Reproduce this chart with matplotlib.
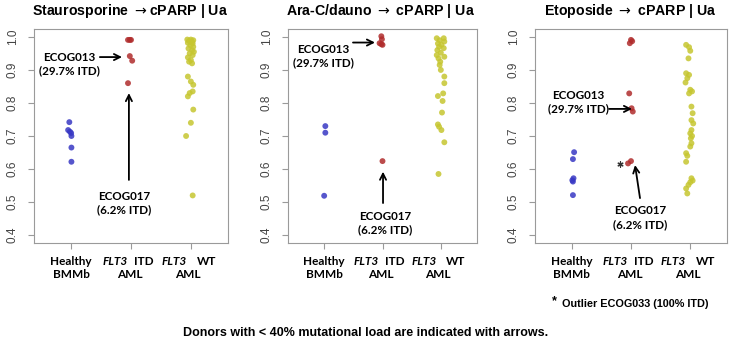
import matplotlib
matplotlib.use("Agg")
import matplotlib.pyplot as plt
from matplotlib import transforms

# ---------------- data ----------------
titles = [r"Staurosporine ${\rightarrow}$cPARP | Ua",
          r"Ara-C/dauno ${\rightarrow}$ cPARP | Ua",
          r"Etoposide ${\rightarrow}$ cPARP | Ua"]
yticks = [0.4, 0.5, 0.6, 0.7, 0.8, 0.9, 1.0]
ytick_labels = ["0.4", "0.5", "0.6", "0.7", "0.8", "0.9", "1.0"]

# Staurosporine
stau_healthy = [0.742, 0.718, 0.713, 0.709, 0.700, 0.665, 0.622]
stau_healthy_jit = [-0.03, -0.05, -0.02, 0.0, 0.005, 0.005, 0.005]
stau_itd = [0.991, 0.991, 0.991, 0.942, 0.928, 0.860]
stau_itd_jit = [-0.05, 0.0, -0.02, -0.02, 0.02, -0.05]
stau_wt = [0.992, 0.992, 0.990, 0.988, 0.985, 0.982, 0.980, 0.975, 0.970, 0.965,
           0.960, 0.955, 0.950, 0.945, 0.938, 0.930, 0.925, 0.920, 0.880, 0.865,
           0.855, 0.835, 0.830, 0.820, 0.780, 0.740, 0.700, 0.520]
stau_wt_jit = [-0.06, 0.0, 0.04, -0.03, 0.02, -0.05, 0.03, -0.01, 0.04, -0.04,
               0.02, 0.05, -0.02, 0.03, -0.05, 0.0, -0.03, 0.02, -0.05, 0.0,
               0.04, 0.03, -0.02, -0.05, 0.04, 0.0, -0.08, 0.03]

# Ara-C / dauno
arac_healthy = [0.730, 0.710, 0.519]
arac_healthy_jit = [0.02, 0.02, 0.0]
arac_itd = [1.002, 0.993, 0.981, 0.978, 0.976, 0.624]
arac_itd_jit = [-0.02, -0.01, -0.05, -0.02, 0.0, 0.0]
arac_wt = [0.996, 0.996, 0.990, 0.986, 0.980, 0.976, 0.970, 0.966, 0.960, 0.952,
           0.945, 0.940, 0.935, 0.925, 0.915, 0.900, 0.880, 0.860, 0.829, 0.821,
           0.806, 0.771, 0.735, 0.728, 0.718, 0.681, 0.585]
arac_wt_jit = [-0.07, 0.05, -0.02, 0.06, -0.05, 0.01, -0.03, 0.05, -0.06, 0.0,
               -0.07, 0.06, -0.04, -0.01, -0.02, 0.0, 0.06, 0.06, 0.04, -0.05,
               0.03, 0.02, -0.05, -0.03, 0.01, 0.06, -0.04]

# Etoposide
etop_healthy = [0.651, 0.630, 0.572, 0.566, 0.562, 0.521]
etop_healthy_jit = [0.04, 0.02, 0.03, 0.01, 0.02, 0.02]
etop_itd = [0.991, 0.987, 0.981, 0.829, 0.784, 0.774, 0.624, 0.617]
etop_itd_jit = [0.0, 0.02, -0.02, -0.03, 0.01, 0.03, 0.0, -0.05]
etop_wt = [0.976, 0.969, 0.958, 0.935, 0.890, 0.885, 0.875, 0.862, 0.840, 0.835,
           0.829, 0.789, 0.769, 0.748, 0.738, 0.718, 0.708, 0.700, 0.693, 0.678,
           0.668, 0.648, 0.640, 0.622, 0.572, 0.565, 0.560, 0.552, 0.541, 0.526]
etop_wt_jit = [-0.07, -0.02, 0.0, -0.03, -0.07, -0.02, -0.05, -0.08, 0.0, 0.03,
               -0.02, 0.02, 0.04, 0.02, 0.05, 0.02, 0.0, 0.03, 0.01, 0.02,
               0.0, -0.07, -0.05, -0.07, 0.02, 0.04, 0.0, -0.03, -0.07, -0.05]
etop_outlier = [0.614]
etop_outlier_x = [1.814]

panels = [
    [(stau_healthy, stau_healthy_jit), (stau_itd, stau_itd_jit), (stau_wt, stau_wt_jit)],
    [(arac_healthy, arac_healthy_jit), (arac_itd, arac_itd_jit), (arac_wt, arac_wt_jit)],
    [(etop_healthy, etop_healthy_jit), (etop_itd, etop_itd_jit), (etop_wt, etop_wt_jit)],
]
group_colors = ["#3838c4", "#b02c2c", "#c6c630"]

# annotations: (text, text_xy, arrow_tail, arrow_head)
annos = [
    [("ECOG013\n(29.7% ITD)", (0.97, 0.917), (1.48, 0.939), (1.85, 0.939)),
     ("ECOG017\n(6.2% ITD)", (1.88, 0.498), (1.965, 0.567), (1.965, 0.830))],
    [("ECOG013\n(29.7% ITD)", (0.98, 0.941), (1.494, 0.983), (1.871, 0.983)),
     ("ECOG017\n(6.2% ITD)", (2.043, 0.435), (2.009, 0.497), (2.009, 0.592))],
    [("ECOG013\n(29.7% ITD)", (1.106, 0.803), (1.629, 0.782), (2.017, 0.782)),
     ("ECOG017\n(6.2% ITD)", (2.152, 0.453), (2.152, 0.512), (2.068, 0.612))],
]

# ---------------- figure ----------------
W, H = 731, 340
fig = plt.figure(figsize=(W / 100, H / 100), dpi=100)
rects_px = [(34, 29, 194, 214), (288, 29, 189, 214), (535, 29, 192, 214)]
title_cx = [130.5, 380, 630]

arial = ["Liberation Sans", "DejaVu Sans"]
calib = ["Lato", "DejaVu Sans"]

for i, (x0, yt, w, h) in enumerate(rects_px):
    ax = fig.add_axes([x0 / W, 1 - (yt + h) / H, w / W, h / H])
    for g, (vals, jit) in enumerate(panels[i]):
        xs = [g + 1 + j for j in jit]
        ax.scatter(xs, vals, s=18, color=group_colors[g], alpha=0.85,
                   edgecolors="none", zorder=3)
    ax.set_xlim(0.38, 3.62)
    ax.set_ylim(0.376, 1.024)
    ax.set_xticks([1, 2, 3])
    ax.set_xticklabels([])
    ax.set_yticks(yticks)
    ax.set_yticklabels(ytick_labels, family=arial, fontsize=8.5, color="#444444")
    for lab in ax.get_yticklabels():
        lab.set_rotation(90)
        lab.set_va("center")
        lab.set_ha("right")
    for sp in ax.spines.values():
        sp.set_color("#9a9a9a")
        sp.set_linewidth(0.8)
    ax.tick_params(axis="both", color="#9a9a9a", length=4, width=0.8)
    ax.tick_params(axis="y", pad=7)

    # x category labels
    tr = transforms.blended_transform_factory(ax.transData, ax.transAxes)
    fs = 8.5
    kw = dict(xycoords=tr, textcoords="offset points", fontsize=fs,
              fontweight="bold", family=calib, va="center", color="black")
    ax.annotate("Healthy", xy=(1, 0), xytext=(0, -13), ha="center", **kw)
    ax.annotate("BMMb", xy=(1, 0), xytext=(0, -22.5), ha="center", **kw)
    ax.annotate("FLT3", xy=(2, 0), xytext=(-2.5, -13), ha="right", style="italic", **kw)
    ax.annotate("ITD", xy=(2, 0), xytext=(2, -13), ha="left", **kw)
    ax.annotate("AML", xy=(2, 0), xytext=(-1, -22.5), ha="center", **kw)
    ax.annotate("FLT3", xy=(3, 0), xytext=(-3, -13), ha="right", style="italic", **kw)
    ax.annotate("WT", xy=(3, 0), xytext=(4, -13), ha="left", **kw)
    ax.annotate("AML", xy=(3, 0), xytext=(-2, -22.5), ha="center", **kw)

    for text, txy, tail, head in annos[i]:
        ax.text(txy[0], txy[1], text, ha="center", va="center", fontsize=8.4,
                fontweight="bold", family=calib, linespacing=1.25, zorder=4)
        ax.annotate("", xy=head, xytext=tail,
                    arrowprops=dict(arrowstyle="->", lw=1.3, color="black",
                                    mutation_scale=11, shrinkA=0, shrinkB=0))
    if i == 2:
        ax.scatter(etop_outlier_x, etop_outlier, marker=(6, 2, 0), s=14,
                   color="#333333", linewidths=0.9, zorder=4)

    fig.text(title_cx[i] / W, 1 - 11 / H, titles[i], ha="center", va="center",
             fontsize=10.2, fontweight="bold", family=arial)

fig.text(552 / W, 1 - 301 / H, "*", ha="left", va="center", fontsize=9,
         fontweight="bold", family=arial)
fig.text(562 / W, 1 - 304 / H, "Outlier ECOG033 (100% ITD)", ha="left",
         va="center", fontsize=7.8, fontweight="bold", family=arial)
fig.text(365.5 / W, 1 - 333 / H,
         "Donors with < 40% mutational load are indicated with arrows.",
         ha="center", va="center", fontsize=9, fontweight="bold", family=arial)

fig.savefig("out.png", dpi=100, facecolor="white")
